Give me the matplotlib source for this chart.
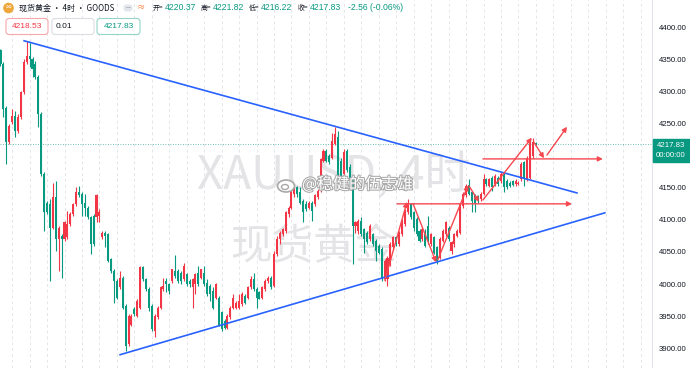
import numpy as np
import matplotlib.pyplot as plt
from matplotlib.patches import FancyBboxPatch, Rectangle, Circle, Ellipse
import matplotlib.patheffects as pe

plt.rcParams['font.family'] = ['Noto Sans CJK SC', 'DejaVu Sans']

# 4H candles, XAUUSD
opens = [4364, 4343, 4275, 4221, 4252, 4262, 4239, 4260, 4299, 4346, 4356, 4351, 4343, 4322, 4265, 4171,
         4127, 4125, 4088, 4135, 4070, 4075, 4070, 4073, 4093, 4109, 4125, 4143, 4140, 4127, 4119, 4104,
         4106, 4104, 4106, 4073, 4080, 4078, 4039, 4021, 4005, 3995, 4010, 3966, 3906, 3937, 3961, 3950,
         3963, 4026, 4008, 3992, 3966, 3927, 3948, 3963, 3992, 4005, 4000, 4005, 4021, 4021, 4018, 4008,
         4015, 4005, 3995, 4000, 4018, 4010, 4018, 4002, 3997, 3989, 3979, 3979, 3956, 3943, 3932, 3948,
         3963, 3963, 3963, 3969, 3982, 3979, 3995, 4008, 3992, 3987, 3979, 3992, 4005, 4010,
         3997, 4047, 4070, 4078, 4083, 4109, 4119, 4140, 4151, 4143, 4130, 4125, 4119, 4127, 4125, 4135,
         4145, 4192, 4208, 4200, 4197, 4218, 4229, 4192, 4171, 4208, 4182, 4164, 4090, 4083, 4099, 4086,
         4080, 4070, 4078, 4067, 4060, 4054, 4008, 4008, 4031, 4057, 4073, 4062, 4078, 4093,
         4112, 4125, 4112, 4101, 4083, 4070, 4078, 4091, 4062, 4073, 4057, 4041, 4067, 4078, 4088, 4052,
         4062, 4075, 4080, 4122, 4138, 4155, 4143, 4138, 4135, 4132, 4140, 4164, 4153, 4166, 4156, 4166,
         4161, 4171, 4161, 4158, 4160, 4156, 4156, 4164, 4190, 4164, 4166, 4200, 4220.37]
highs = [4366, 4346, 4278, 4249, 4273, 4270, 4265, 4301, 4351, 4378, 4375, 4353, 4348, 4325, 4268, 4174,
         4130, 4132, 4158, 4161, 4091, 4078, 4099, 4114, 4112, 4127, 4151, 4153, 4143, 4140, 4122, 4106,
         4109, 4140, 4117, 4083, 4083, 4080, 4041, 4023, 4008, 4021, 4013, 3969, 3953, 3953, 3964, 3976,
         4028, 4028, 4010, 3995, 3969, 3953, 3966, 3997, 4010, 4010, 4002, 4023, 4046, 4023, 4021, 4033,
         4018, 4008, 4010, 4018, 4028, 4023, 4028, 4008, 4000, 3995, 4002, 3982, 3958, 3945, 3953, 3966,
         3984, 3974, 3984, 3987, 3984, 3997, 4013, 4018, 3995, 3989, 3997, 4008, 4013, 4013,
         4052, 4075, 4083, 4088, 4114, 4122, 4148, 4153, 4153, 4151, 4132, 4130, 4130, 4130, 4140, 4148,
         4197, 4210, 4210, 4203, 4236, 4244, 4239, 4197, 4210, 4210, 4187, 4166, 4099, 4101, 4104, 4088,
         4083, 4093, 4080, 4070, 4062, 4057, 4039, 4044, 4065, 4075, 4075, 4083, 4101, 4117,
         4132, 4127, 4114, 4104, 4086, 4088, 4086, 4106, 4080, 4075, 4060, 4073, 4086, 4099, 4091, 4067,
         4080, 4086, 4127, 4143, 4156, 4164, 4145, 4140, 4138, 4143, 4171, 4166, 4166, 4169, 4171, 4169,
         4174, 4174, 4164, 4161, 4162, 4164, 4161, 4190, 4192, 4200, 4227, 4228, 4221.82]
lows = [4340, 4260, 4187, 4218, 4249, 4229, 4236, 4257, 4296, 4343, 4338, 4322, 4320, 4244, 4169, 4083,
        4109, 4005, 4086, 4052, 4021, 4010, 4067, 4070, 4091, 4106, 4122, 4135, 4106, 4106, 4101, 4047,
        4060, 4096, 4096, 4070, 4057, 4034, 4018, 3971, 3976, 3992, 3961, 3896, 3904, 3935, 3950, 3948,
        3961, 4005, 3989, 3958, 3927, 3917, 3945, 3961, 3989, 3987, 3984, 4002, 4010, 4002, 4000, 4005,
        3997, 3995, 3963, 3984, 3997, 4008, 3997, 3982, 3974, 3961, 3976, 3935, 3927, 3930, 3930, 3945,
        3961, 3961, 3961, 3966, 3969, 3976, 3992, 3989, 3963, 3976, 3976, 3989, 4002, 3992,
        3995, 4044, 4062, 4075, 4080, 4104, 4117, 4135, 4135, 4125, 4096, 4114, 4117, 4099, 4122, 4132,
        4143, 4190, 4190, 4187, 4195, 4216, 4164, 4164, 4169, 4174, 4161, 4031, 4080, 4078, 4075, 4049,
        4062, 4067, 4060, 4036, 4047, 4005, 4005, 3997, 4028, 4054, 4060, 4060, 4075, 4091,
        4109, 4101, 4083, 4075, 4065, 4067, 4057, 4062, 4060, 4047, 4031, 4039, 4065, 4075, 4067, 4047,
        4057, 4073, 4078, 4119, 4135, 4138, 4112, 4112, 4127, 4130, 4138, 4153, 4151, 4145, 4153, 4153,
        4158, 4143, 4148, 4151, 4153, 4153, 4155, 4161, 4153, 4161, 4164, 4196, 4216.22]
closes = [4343, 4273, 4221, 4247, 4262, 4239, 4260, 4299, 4346, 4356, 4351, 4335, 4322, 4265, 4171, 4112,
          4112, 4088, 4135, 4070, 4088, 4070, 4096, 4093, 4109, 4125, 4143, 4138, 4125, 4119, 4104, 4062,
          4062, 4138, 4112, 4080, 4075, 4036, 4021, 4005, 3979, 4010, 3963, 3904, 3950, 3950, 3953, 3974,
          4026, 4008, 3992, 3963, 3930, 3950, 3963, 3995, 3997, 4000, 3989, 4023, 4013, 4005, 4005, 4028,
          4000, 4000, 4008, 4015, 4000, 4023, 4000, 3984, 3984, 3963, 4000, 3937, 3930, 3932, 3950, 3963,
          3979, 3971, 3974, 3984, 3971, 3995, 4008, 3992, 3979, 3976, 3995, 4005, 4010, 3995,
          4047, 4070, 4080, 4086, 4112, 4119, 4143, 4151, 4140, 4127, 4112, 4117, 4127, 4114, 4138, 4145,
          4195, 4208, 4192, 4190, 4223, 4234, 4166, 4166, 4205, 4177, 4164, 4090, 4096, 4099, 4078, 4070,
          4065, 4091, 4062, 4052, 4049, 4008, 4036, 4041, 4062, 4073, 4062, 4080, 4099, 4114,
          4127, 4104, 4088, 4078, 4067, 4086, 4060, 4067, 4078, 4049, 4036, 4070, 4083, 4096, 4070, 4065,
          4078, 4083, 4125, 4140, 4153, 4140, 4130, 4125, 4130, 4140, 4164, 4156, 4164, 4151, 4169, 4156,
          4171, 4151, 4151, 4153, 4155, 4161, 4158, 4187, 4166, 4197, 4224, 4222, 4217.83]

# trend lines / drawings: (bar index, price)
upper_line = [(8.1, 4379), (198.1, 4142)]
lower_line = [(41.1, 3890), (207.7, 4111)]
zigzag = [((132.1, 4006), (139.7, 4128)), ((141.8, 4125), (149.7, 4034)),
          ((150.3, 4038), (160.7, 4154)), ((161.0, 4153), (164.4, 4128)),
          ((165.8, 4131), (182.6, 4228)), ((183.3, 4221), (186.8, 4196)),
          ((187.8, 4201), (194.7, 4245))]
h_arrows = [((136.3, 4125), (196.4, 4125)), ((165.8, 4195), (207.0, 4195))]

last_price = 4217.83
yticks = [3900, 3950, 4000, 4050, 4100, 4150, 4250, 4300, 4350, 4400]

UP = '#f23645'
DN = '#089981'
DRAW_RED = '#f7474f'
BLUE = '#2962ff'
LAT = ['Liberation Sans', 'DejaVu Sans']

fig = plt.figure(figsize=(6.9, 3.68), dpi=100)
ax = fig.add_axes([0, 0, 652 / 690, 1])
ax.set_xlim(-0.17, 223.9)
ax.set_ylim(3869.3, 4442.5)

idx = np.arange(len(closes))
o = np.array(opens); c = np.array(closes); h = np.array(highs); l = np.array(lows)
cols = [UP if cc >= oo else DN for oo, cc in zip(o, c)]
bottom = np.minimum(o, c)
height = np.maximum(np.abs(c - o), 0.9)
ax.vlines(idx, l, h, colors=cols, lw=0.8, zorder=3)
ax.bar(idx, height, bottom=bottom, width=0.7, color=cols, linewidth=0, zorder=3)

# day separators
for g in np.arange(4, 224, 6):
    ax.axvline(g, color='#e4e5ea', lw=0.7, ls=(0, (3, 3)), zorder=0)

ax.axhline(last_price, color=DN, lw=0.6, ls=(0, (1, 2)), alpha=0.8, zorder=2)

# watermark
ax.text(334 / 652, 1 - 176 / 368, 'XAUUSD, 4时', transform=ax.transAxes, ha='center', va='center',
        fontsize=33, color='#e4e4e7', zorder=1)
ax.text(314 / 652, 1 - 248 / 368, '现货黄金', transform=ax.transAxes, ha='center', va='center',
        fontsize=30, color='#e4e4e7', zorder=1)

ax.plot(*zip(*upper_line), color=BLUE, lw=1.2, zorder=4)
ax.plot(*zip(*lower_line), color=BLUE, lw=1.2, zorder=4)
for (a, b) in zigzag + h_arrows:
    ax.annotate('', xy=b, xytext=a,
                arrowprops=dict(arrowstyle='-|>', color=DRAW_RED, lw=1.0, mutation_scale=7,
                                shrinkA=0, shrinkB=0), zorder=5)

for s in ['top', 'left', 'bottom']:
    ax.spines[s].set_visible(False)
ax.spines['right'].set_color('#e0e3eb')
ax.set_xticks([])
ax.yaxis.tick_right()
ax.set_yticks(yticks)
ax.set_yticklabels(['%.2f' % v for v in yticks])
ax.tick_params(axis='y', length=0, pad=5, labelsize=5.6, labelcolor='#131722')
for lb in ax.get_yticklabels():
    lb.set_fontfamily(LAT)

# overlay in pixel coords: header, legend boxes, price tag, weibo mark
top = fig.add_axes([0, 0, 1, 1], zorder=5)
top.set_xlim(0, 690); top.set_ylim(368, 0)
top.axis('off')
top.patch.set_alpha(0)

top.add_patch(Circle((8.5, 8), 4.6, color='#efa63a'))
top.text(8.5, 8, '∞', fontsize=4, color='white', ha='center', va='center')
top.text(19, 8, '现货黄金 • 4时 • GOODS', fontsize=5.8, color='#131722', va='center')
top.add_patch(FancyBboxPatch((123.5, 4.5), 9, 7, boxstyle='round,pad=0,rounding_size=3',
                             fc='#e4e6ee', ec='none'))
top.text(128, 8, '—', fontsize=4, color='#666', ha='center', va='center')
top.text(137, 8, '≈', fontsize=6, color='#f7722a', va='center')

head_labels = [(153, '开='), (201, '高='), (249, '低='), (298, '收=')]
head_values = [(165, '4220.37'), (213, '4221.82'), (261, '4216.22'), (310, '4217.83'),
               (348, '-2.56 (-0.06%)')]
for x, t in head_labels:
    top.text(x, 8, t, fontsize=4.9, color='#131722', va='center')
for x, t in head_values:
    top.text(x, 8, t, fontsize=6.2, color=DN, va='center', family=LAT)

boxes = [(6, 42, '4218.53', '#f7a7ad', UP), (52, 42, '0.01', '#dcdde3', '#131722'),
         (97, 43, '4217.83', '#93d6c8', DN)]
for x0, w, t, ec, tc in boxes:
    top.add_patch(FancyBboxPatch((x0, 18.5), w, 16, boxstyle='round,pad=0,rounding_size=3',
                                 fc='white', ec=ec, lw=0.8))
    if t == '0.01':
        top.text(x0 + 4, 26.5, t, fontsize=6, color=tc, va='center', family=LAT)
    else:
        top.text(x0 + w / 2, 26.5, t, fontsize=6, color=tc, va='center', ha='center', family=LAT)

top.add_patch(Rectangle((652.5, 139), 37.5, 23, color=DN))
top.text(671, 145.5, '%.2f' % last_price, fontsize=5.6, color='white', ha='center', va='center',
         family=LAT)
top.text(671, 155.5, '00:00:00', fontsize=5.6, color='white', ha='center', va='center',
         family=LAT)

# weibo watermark
top.add_patch(Ellipse((286, 186), 17, 12, fc='white', ec='#a8a8a8', lw=1.2))
top.add_patch(Ellipse((285, 187), 7, 5, fc='white', ec='#a8a8a8', lw=1.0))
top.text(302, 184.5, '@稳健的伍志雄', fontsize=11.5, color='white', va='center',
         path_effects=[pe.withStroke(linewidth=1.5, foreground='#a8a8a8')])

fig.savefig('out.png', dpi=100)
